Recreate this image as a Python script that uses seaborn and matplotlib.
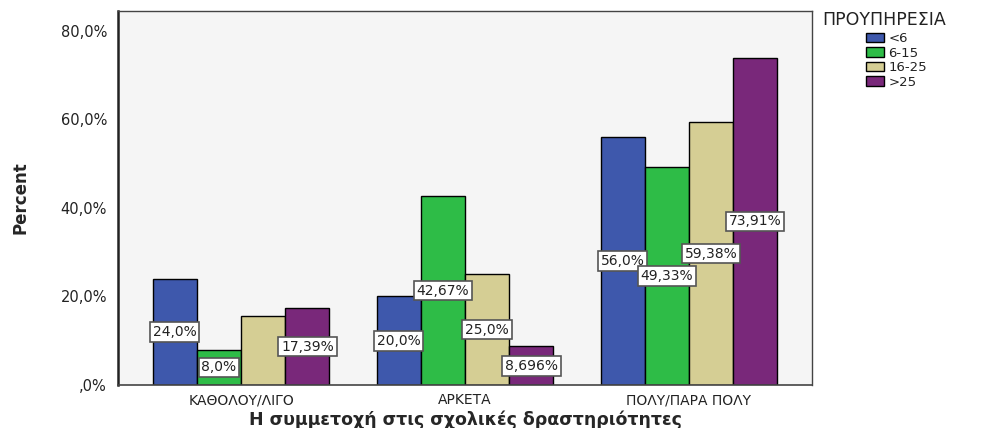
import pandas as pd
import matplotlib
matplotlib.use('Agg')
import matplotlib.pyplot as plt
import seaborn as sns
from matplotlib.ticker import FuncFormatter

# === DỮ LIỆU ===
categories = ['ΚΑΘΟΛΟΥ/ΛΙΓΟ', 'ΑΡΚΕΤΑ', 'ΠΟΛΥ/ΠΑΡΑ ΠΟΛΥ']
groups = ['<6', '6-15', '16-25', '>25']
values = {
    '<6': [24.0, 20.0, 56.0],
    '6-15': [8.0, 42.67, 49.33],
    '16-25': [15.63, 25.0, 59.38],
    '>25': [17.39, 8.696, 73.91],
}
bar_labels = {
    '<6': ['24,0%', '20,0%', '56,0%'],
    '6-15': ['8,0%', '42,67%', '49,33%'],
    '16-25': ['', '25,0%', '59,38%'],
    '>25': ['17,39%', '8,696%', '73,91%'],
}
colors = ['#3E58AC', '#2EBC47', '#D5CE94', '#79287A']

rows = []
for g in groups:
    for c, v in zip(categories, values[g]):
        rows.append({'cat': c, 'grp': g, 'pct': v})
df = pd.DataFrame(rows)

sns.set_style('white')
plt.rcParams['font.family'] = ['DejaVu Sans']

fig = plt.figure(figsize=(9.92, 4.28), dpi=100)
ax = fig.add_axes([0.119, 0.1005, 0.6995, 0.8738])
ax.set_facecolor('#F5F5F5')

sns.barplot(data=df, x='cat', y='pct', hue='grp', order=categories, hue_order=groups,
            palette=colors, width=0.79, edgecolor='black', linewidth=1, ax=ax,
            saturation=1, legend=True)

for cont, g in zip(ax.containers, groups):
    ax.bar_label(cont, labels=bar_labels[g], label_type='center', fontsize=10, color='#222222',
                 bbox=dict(boxstyle='square,pad=0.2', fc='white', ec='#555555', lw=1.2))

ax.set_ylim(0, 84.5)
ax.set_xlim(-0.549, 2.549)
ax.set_yticks([0, 20, 40, 60, 80])
ax.yaxis.set_major_formatter(FuncFormatter(lambda v, p: ',0%' if v == 0 else f'{v:.1f}%'.replace('.', ',')))
ax.tick_params(axis='y', direction='out', length=6, width=1, colors='#333333', labelsize=10.5, pad=2)
ax.tick_params(axis='x', direction='out', length=5, width=1, colors='#333333', labelsize=10, pad=1)
for t in ax.get_xticklabels() + ax.get_yticklabels():
    t.set_color('#222222')

for s in ax.spines.values():
    s.set_visible(True)
    s.set_color('#444444')
    s.set_linewidth(1)
ax.spines['left'].set_linewidth(1.8)
ax.spines['left'].set_color('#222222')
ax.spines['bottom'].set_linewidth(1.2)

ax.set_ylabel('Percent', fontsize=12, fontweight='bold')
ax.yaxis.set_label_coords(-0.128, 0.5)
ax.set_xlabel('Η συμμετοχή στις σχολικές δραστηριότητες', fontsize=12.5, fontweight='bold', labelpad=2)

leg = ax.legend(loc='upper left', bbox_to_anchor=(866 / 992, 1 - 32 / 428), bbox_transform=fig.transFigure,
                frameon=False, fontsize=9.5, handlelength=1.4, borderpad=0, borderaxespad=0,
                handleheight=0.75, labelspacing=0.12, handletextpad=0.3)
for h in leg.legend_handles:
    h.set_edgecolor('black')
for t in leg.get_texts():
    t.set_color('#222222')
fig.text(822 / 992, 1 - 20 / 428, 'ΠΡΟΥΠΗΡΕΣΙΑ', fontsize=12.5, color='#222222', va='center', ha='left')

fig.savefig('out.png', dpi=100)
